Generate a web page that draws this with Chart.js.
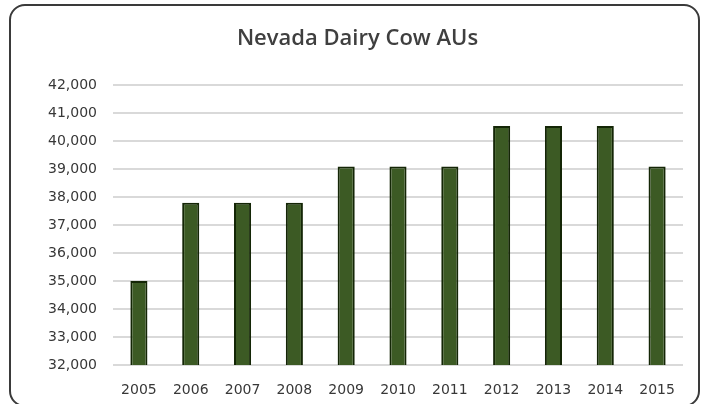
<!DOCTYPE html>
<html>
<head>
<meta charset="utf-8">
<script src="https://cdn.jsdelivr.net/npm/chart.js@4/dist/chart.umd.min.js"></script>
<style>
  html, body { margin: 0; padding: 0; background: #ffffff; }
  #wrap { position: relative; width: 701px; height: 404px; overflow: hidden; }
  #frame {
    position: absolute; left: 9px; top: 4px; width: 691px; height: 403px;
    box-sizing: border-box; border: 2px solid #3a3a3a; border-radius: 16px;
    pointer-events: none;
  }
  canvas { position: absolute; left: 0; top: 0; }
</style>
</head>
<body>
<div id="wrap">
  <canvas id="chart" width="701" height="404"></canvas>
  <div id="frame"></div>
</div>
<script>
// Nevada dairy cow animal units by year
const years = ['2005', '2006', '2007', '2008', '2009', '2010', '2011', '2012', '2013', '2014', '2015'];
const cowAUs = [35000, 37800, 37800, 37800, 39100, 39100, 39100, 40550, 40550, 40550, 39100];
const yTicks = [32000, 33000, 34000, 35000, 36000, 37000, 38000, 39000, 40000, 41000, 42000];

const labelFont = { family: 'DejaVu Sans', size: 14 };

new Chart(document.getElementById('chart'), {
  type: 'bar',
  data: {
    labels: years,
    datasets: [{
      data: cowAUs,
      backgroundColor: '#3c5a24',
      borderColor: '#142606',
      borderWidth: 2,
      barPercentage: 0.33,
      categoryPercentage: 1.0
    }]
  },
  options: {
    responsive: false,
    animation: false,
    layout: { padding: { left: 32, right: 18, top: 0, bottom: 0 } },
    plugins: {
      legend: { display: false },
      tooltip: { enabled: false },
      title: {
        display: true,
        text: 'Nevada Dairy Cow AUs',
        color: '#3f3f3f',
        font: { family: 'Open Sans', size: 22, weight: '600' },
        padding: { top: 26, bottom: 33 }
      }
    },
    scales: {
      x: {
        grid: { display: false, drawTicks: false },
        border: { display: false },
        ticks: { color: '#383838', font: labelFont, padding: 17, maxRotation: 0 },
        afterFit: (s) => { s.height = 39; }
      },
      y: {
        min: 32000,
        max: 42000,
        afterBuildTicks: (s) => { s.ticks = yTicks.map(v => ({ value: v })); },
        grid: { color: '#d9d9d9', lineWidth: 2, drawTicks: false },
        border: { display: false },
        ticks: {
          color: '#383838',
          font: labelFont,
          padding: 16,
          callback: (v) => v.toLocaleString('en-US')
        },
        afterFit: (s) => { s.width = 81; }
      }
    }
  }
});
</script>
</body>
</html>
